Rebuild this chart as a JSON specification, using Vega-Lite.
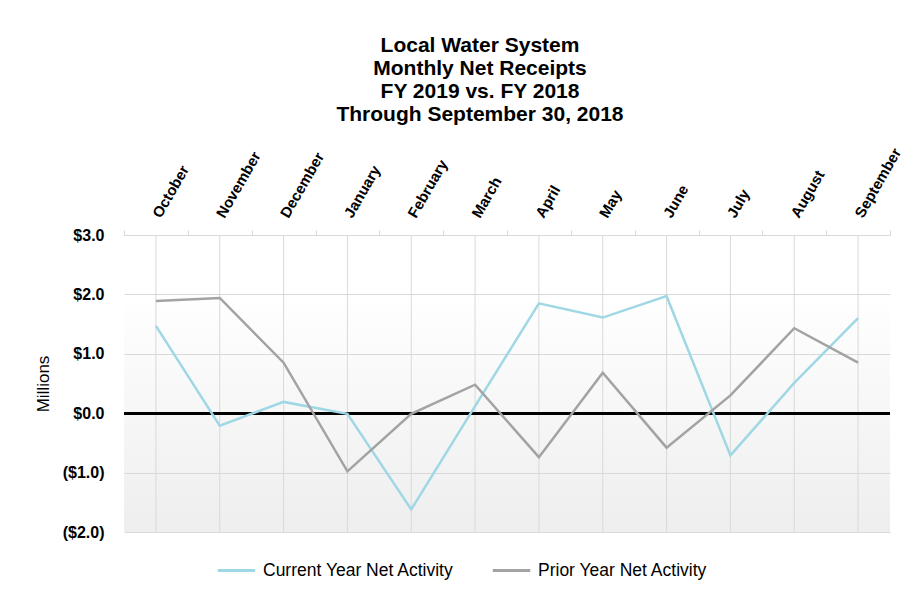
{
  "$schema": "https://vega.github.io/schema/vega-lite/v6.json",
  "width": 766,
  "height": 297,
  "autosize": "none",
  "padding": {"left": 124, "top": 235, "right": 14, "bottom": 59},
  "background": "white",
  "title": {
    "text": ["Local Water System", "Monthly Net Receipts", "FY 2019 vs. FY 2018", "Through September 30, 2018"],
    "font": "Liberation Sans",
    "fontSize": 21,
    "fontWeight": "bold",
    "lineHeight": 23,
    "anchor": "middle",
    "dx": -27,
    "offset": 20,
    "color": "black"
  },
  "config": {
    "view": {
      "stroke": null,
      "fill": {"gradient": "linear", "x1": 0, "y1": 0, "x2": 0, "y2": 1, "stops": [{"offset": 0, "color": "#ffffff"}, {"offset": 0.2, "color": "#ffffff"}, {"offset": 1, "color": "#eeeeee"}]}
    },
    "font": "Liberation Sans"
  },
  "data": {
    "values": [
      {"month": "October", "series": "Current Year Net Activity", "value": 1.47},
      {"month": "November", "series": "Current Year Net Activity", "value": -0.21},
      {"month": "December", "series": "Current Year Net Activity", "value": 0.19},
      {"month": "January", "series": "Current Year Net Activity", "value": -0.01},
      {"month": "February", "series": "Current Year Net Activity", "value": -1.62},
      {"month": "March", "series": "Current Year Net Activity", "value": 0.12},
      {"month": "April", "series": "Current Year Net Activity", "value": 1.85},
      {"month": "May", "series": "Current Year Net Activity", "value": 1.61},
      {"month": "June", "series": "Current Year Net Activity", "value": 1.97},
      {"month": "July", "series": "Current Year Net Activity", "value": -0.71},
      {"month": "August", "series": "Current Year Net Activity", "value": 0.51},
      {"month": "September", "series": "Current Year Net Activity", "value": 1.60},
      {"month": "October", "series": "Prior Year Net Activity", "value": 1.89},
      {"month": "November", "series": "Prior Year Net Activity", "value": 1.94},
      {"month": "December", "series": "Prior Year Net Activity", "value": 0.85},
      {"month": "January", "series": "Prior Year Net Activity", "value": -0.98},
      {"month": "February", "series": "Prior Year Net Activity", "value": -0.01},
      {"month": "March", "series": "Prior Year Net Activity", "value": 0.48},
      {"month": "April", "series": "Prior Year Net Activity", "value": -0.74},
      {"month": "May", "series": "Prior Year Net Activity", "value": 0.68},
      {"month": "June", "series": "Prior Year Net Activity", "value": -0.58},
      {"month": "July", "series": "Prior Year Net Activity", "value": 0.30},
      {"month": "August", "series": "Prior Year Net Activity", "value": 1.43},
      {"month": "September", "series": "Prior Year Net Activity", "value": 0.85}
    ]
  },
  "layer": [
    {
      "transform": [{"filter": "datum.series === 'Current Year Net Activity'"}],
      "mark": {"type": "rule", "color": "#d9d9d9", "strokeWidth": 1},
      "encoding": {
        "x": {"field": "month", "type": "nominal", "bandPosition": 0.5,
          "sort": ["October", "November", "December", "January", "February", "March", "April", "May", "June", "July", "August", "September"],
          "scale": {"type": "band", "paddingInner": 0, "paddingOuter": 0}},
        "y": {"datum": 3, "type": "quantitative"},
        "y2": {"datum": -2}
      }
    },
    {
      "mark": {"type": "rule", "color": "black", "strokeWidth": 2},
      "encoding": {
        "y": {"datum": 0, "type": "quantitative"}
      }
    },
    {
      "mark": {"type": "line", "strokeWidth": 2.5},
      "encoding": {
        "x": {"field": "month", "type": "nominal", "bandPosition": 0.5,
          "sort": ["October", "November", "December", "January", "February", "March", "April", "May", "June", "July", "August", "September"],
          "scale": {"type": "band", "paddingInner": 0, "paddingOuter": 0},
          "axis": {"orient": "top", "title": null, "labelAngle": -60, "labelAlign": "left", "labelBaseline": "middle", "labelFont": "Liberation Sans", "labelFontSize": 15, "labelFontWeight": "bold", "labelColor": "black", "labelPadding": 14,
            "domain": true, "domainColor": "#d9d9d9", "ticks": true, "tickBand": "extent", "tickColor": "#d9d9d9", "tickSize": 5, "grid": false}},
        "y": {"field": "value", "type": "quantitative",
          "scale": {"domain": [-2, 3], "nice": false, "zero": false},
          "axis": {"values": [-2, -1, 0, 1, 2, 3], "title": "Millions", "titleFont": "Liberation Sans", "titleFontSize": 17, "titleFontWeight": "normal", "titleColor": "black", "titlePadding": 10,
            "labelExpr": "datum.value < 0 ? '($' + format(-datum.value, '.1f') + ')' : '$' + format(datum.value, '.1f')",
            "labelFont": "Liberation Sans", "labelFontSize": 16, "labelFontWeight": "bold", "labelColor": "black", "labelPadding": 20,
            "domain": false, "ticks": false, "grid": true, "gridColor": "#d9d9d9"}},
        "color": {"field": "series", "type": "nominal",
          "scale": {"domain": ["Current Year Net Activity", "Prior Year Net Activity"], "range": ["#9fd8e4", "#a3a3a3"]},
          "legend": {"orient": "none", "legendX": 92, "legendY": 315, "direction": "horizontal", "title": null, "labelLimit": 400,
            "symbolType": "stroke", "symbolStrokeWidth": 3, "symbolSize": 1400, "labelFont": "Liberation Sans", "labelFontSize": 17.5, "labelColor": "black", "columnPadding": 32, "labelOffset": 6}}
      }
    }
  ]
}
